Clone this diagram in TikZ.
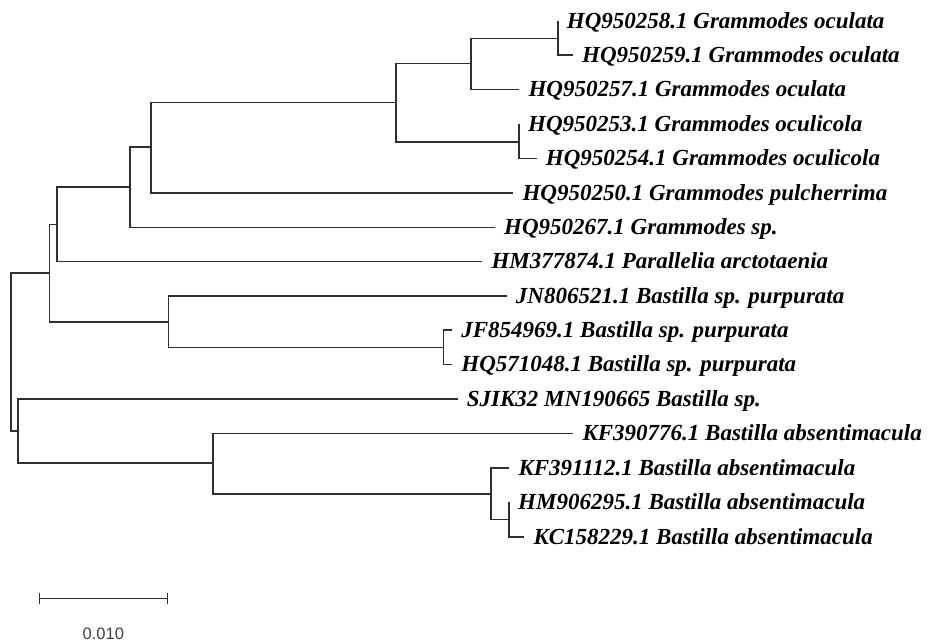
\documentclass[tikz,border=0pt]{standalone}
\usepackage{fontspec}
\setmainfont{Liberation Serif}
\newfontfamily\scalefont{Liberation Sans}
\begin{document}
\begin{tikzpicture}[x=1pt,y=-1pt,
  branch/.style={draw=black!82, line width=1.6pt},
  leaf/.style={anchor=west, inner xsep=9pt, inner ysep=0pt, text height=15pt, text depth=0pt,
    font=\fontsize{23}{23}\selectfont\bfseries\itshape},
  scalelabel/.style={inner sep=0pt, text height=11.5pt, text depth=0pt, text=black!75,
    font=\fontsize{16.5}{16.5}\selectfont\scalefont}]
\useasboundingbox (0,0) rectangle (928,643);
% leaves
\node[leaf] (l1)  at (557.7,20.7)  {HQ950258.1 Grammodes oculata};
\node[leaf] (l2)  at (573,55)      {HQ950259.1 Grammodes oculata};
\node[leaf] (l3)  at (519.3,89.3)  {HQ950257.1 Grammodes oculata};
\node[leaf] (l4)  at (519,124)     {HQ950253.1 Grammodes oculicola};
\node[leaf] (l5)  at (536.7,158.3) {HQ950254.1 Grammodes oculicola};
\node[leaf] (l6)  at (513.3,192.7) {HQ950250.1 Grammodes pulcherrima};
\node[leaf] (l7)  at (495,227.3)   {HQ950267.1 Grammodes sp.};
\node[leaf] (l8)  at (482.3,261.3) {HM377874.1 Parallelia arctotaenia};
\node[leaf] (l9)  at (506.7,296)   {JN806521.1 Bastilla sp. purpurata};
\node[leaf] (l10) at (452.2,330)   {JF854969.1 Bastilla sp. purpurata};
\node[leaf] (l11) at (452.2,364.3) {HQ571048.1 Bastilla sp. purpurata};
\node[leaf] (l12) at (457.7,399)   {SJIK32 MN190665 Bastilla sp.};
\node[leaf] (l13) at (573.3,433.3) {KF390776.1 Bastilla absentimacula};
\node[leaf] (l14) at (509.3,467.7) {KF391112.1 Bastilla absentimacula};
\node[leaf] (l15) at (509,501.7)   {HM906295.1 Bastilla absentimacula};
\node[leaf] (l16) at (524.3,536.7) {KC158229.1 Bastilla absentimacula};
% internal nodes
\coordinate (n1)  at (557.7,38.3);
\coordinate (n2)  at (470.7,63.3);
\coordinate (n3)  at (519,141.7);
\coordinate (n4)  at (396,102.3);
\coordinate (n5)  at (151,146.7);
\coordinate (n6)  at (129.7,187);
\coordinate (n7)  at (56.7,224.3);
\coordinate (n8)  at (443.3,347.3);
\coordinate (n9)  at (168.3,321.7);
\coordinate (n10) at (49.3,272.7);
\coordinate (n11) at (509,519.3);
\coordinate (n12) at (490.7,493.7);
\coordinate (n13) at (212.7,462.7);
\coordinate (n14) at (17.7,430.7);
\coordinate (root) at (11,351.7);
% branches
\draw[branch] (n1) |- (l1);  \draw[branch] (n1) |- (l2);
\draw[branch] (n2) |- (n1);  \draw[branch] (n2) |- (l3);
\draw[branch] (n3) |- (l4);  \draw[branch] (n3) |- (l5);
\draw[branch] (n4) |- (n2);  \draw[branch] (n4) |- (n3);
\draw[branch] (n5) |- (n4);  \draw[branch] (n5) |- (l6);
\draw[branch] (n6) |- (n5);  \draw[branch] (n6) |- (l7);
\draw[branch] (n7) |- (n6);  \draw[branch] (n7) |- (l8);
\draw[branch] (n8) |- (l10); \draw[branch] (n8) |- (l11);
\draw[branch] (n9) |- (l9);  \draw[branch] (n9) |- (n8);
\draw[branch] (n10) |- (n7); \draw[branch] (n10) |- (n9);
\draw[branch] (n11) |- (l15); \draw[branch] (n11) |- (l16);
\draw[branch] (n12) |- (l14); \draw[branch] (n12) |- (n11);
\draw[branch] (n13) |- (l13); \draw[branch] (n13) |- (n12);
\draw[branch] (n14) |- (l12); \draw[branch] (n14) |- (n13);
\draw[branch] (root) |- (n10); \draw[branch] (root) |- (n14);
% scale bar
\coordinate (s1) at (39.3,598.3);
\coordinate (s2) at (167.3,598.3);
\draw[branch] (s1) -- (s2);
\draw[branch] ([yshift=-5.5pt]s1) -- ([yshift=5.5pt]s1);
\draw[branch] ([yshift=-5.5pt]s2) -- ([yshift=5.5pt]s2);
\node[scalelabel] (sl) at (103.3,634) {0.010};
\end{tikzpicture}
\end{document}
